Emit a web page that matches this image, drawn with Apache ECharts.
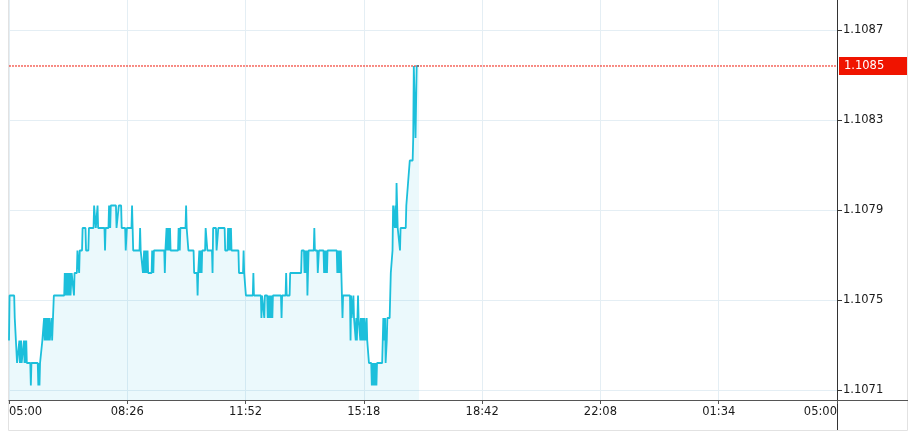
<!DOCTYPE html>
<html><head><meta charset="utf-8">
<script src="https://cdn.jsdelivr.net/npm/echarts@6/dist/echarts.min.js"></script>
<style>html,body{margin:0;padding:0;background:#fff}#c{width:912px;height:436px}</style>
</head><body><div id="c"></div>
<script>
// minutes after 05:00
const minutes = [
0,1,9,10,12,14,17,18,19,21,
22,25,26,27,28,29,30,31,37,38,
39,50,51,52,53,54,57,58,60,61,
62,64,65,67,68,70,71,74,75,77,
78,96,97,98,100,101,103,104,106,107,
109,112,113,114,118,119,121,122,123,127,
128,133,134,138,139,147,148,150,151,153,
154,155,166,167,168,173,174,176,177,186,
187,190,191,195,196,202,203,205,213,214,
215,216,227,228,229,232,233,235,236,238,
239,241,242,248,249,251,252,270,271,272,
274,275,277,278,280,281,294,295,297,298,
307,308,309,311,312,321,322,327,328,329,
331,332,333,335,336,341,342,344,345,353,
354,355,360,361,363,364,375,376,380,381,
382,383,385,386,387,399,400,407,408,409,
411,412,424,425,426,438,439,440,443,444,
445,449,450,451,452,453,455,456,458,459,
473,474,475,481,482,483,488,489,508,509,
513,514,515,517,518,519,520,521,530,531,
532,536,537,539,547,548,549,551,552,553,
554,570,571,572,574,575,576,577,579,580,
581,593,594,595,596,598,599,600,602,603,
604,605,606,607,608,610,611,612,614,615,
617,618,620,622,623,626,630,631,632,634,
635,636,637,639,640,649,650,651,652,654,
655,657,658,662,663,664,666,667,668,670,
671,672,673,674,675,676,679,680,681,690,
691,693,694,696,697,702,703,704,706,707,
708,709,713
];
const prices = [
1.10732,1.10752,1.10752,1.10742,1.10732,1.10722,1.10722,1.10732,1.10722,1.10732,
1.10722,1.10722,1.10732,1.10722,1.10732,1.10722,1.10732,1.10722,1.10722,1.10712,
1.10722,1.10722,1.10712,1.10722,1.10712,1.10722,1.10722,1.10732,1.10732,1.10742,
1.10732,1.10742,1.10732,1.10742,1.10732,1.10742,1.10732,1.10742,1.10732,1.10732,
1.10752,1.10752,1.10762,1.10752,1.10762,1.10752,1.10762,1.10752,1.10762,1.10752,
1.10762,1.10762,1.10752,1.10762,1.10762,1.10772,1.10772,1.10762,1.10772,1.10772,
1.10782,1.10782,1.10772,1.10772,1.10782,1.10782,1.10792,1.10792,1.10782,1.10782,
1.10792,1.10782,1.10782,1.10772,1.10782,1.10782,1.10792,1.10782,1.10792,1.10792,
1.10782,1.10782,1.10792,1.10792,1.10782,1.10782,1.10772,1.10782,1.10782,1.10792,
1.10782,1.10772,1.10772,1.10782,1.10772,1.10772,1.10762,1.10772,1.10762,1.10772,
1.10762,1.10772,1.10762,1.10762,1.10772,1.10762,1.10772,1.10772,1.10762,1.10772,
1.10782,1.10772,1.10782,1.10772,1.10782,1.10772,1.10772,1.10782,1.10772,1.10782,
1.10782,1.10792,1.10782,1.10782,1.10772,1.10772,1.10762,1.10762,1.10752,1.10762,
1.10772,1.10762,1.10772,1.10762,1.10772,1.10772,1.10782,1.10782,1.10772,1.10772,
1.10762,1.10782,1.10782,1.10772,1.10772,1.10782,1.10782,1.10772,1.10772,1.10782,
1.10772,1.10782,1.10772,1.10782,1.10772,1.10772,1.10762,1.10762,1.10772,1.10762,
1.10762,1.10752,1.10752,1.10762,1.10752,1.10752,1.10742,1.10752,1.10752,1.10742,
1.10752,1.10752,1.10742,1.10752,1.10742,1.10752,1.10742,1.10752,1.10742,1.10752,
1.10752,1.10742,1.10752,1.10752,1.10762,1.10752,1.10752,1.10762,1.10762,1.10772,
1.10772,1.10762,1.10772,1.10762,1.10772,1.10752,1.10752,1.10772,1.10772,1.10782,
1.10772,1.10772,1.10762,1.10772,1.10772,1.10762,1.10772,1.10762,1.10772,1.10762,
1.10772,1.10772,1.10762,1.10772,1.10762,1.10772,1.10762,1.10772,1.10772,1.10742,
1.10752,1.10752,1.10732,1.10752,1.10742,1.10742,1.10752,1.10742,1.10742,1.10732,
1.10742,1.10732,1.10742,1.10752,1.10742,1.10742,1.10732,1.10742,1.10732,1.10742,
1.10732,1.10742,1.10732,1.10742,1.10732,1.10722,1.10722,1.10712,1.10722,1.10712,
1.10722,1.10712,1.10722,1.10712,1.10722,1.10722,1.10732,1.10742,1.10732,1.10742,
1.10722,1.10732,1.10742,1.10742,1.10752,1.10762,1.10762,1.10772,1.10792,1.10792,
1.10782,1.10792,1.10782,1.10802,1.10792,1.10782,1.10782,1.10772,1.10782,1.10782,
1.10792,1.10792,1.10802,1.10802,1.10812,1.10812,1.10822,1.10854,1.10854,1.10822,
1.10822,1.10854,1.10854
];
const timeLabels = ['05:00','08:26','11:52','15:18','18:42','22:08','01:34','05:00'];
const priceTicks = [1.1071, 1.1075, 1.1079, 1.1083, 1.1087];
const lastPriceLabel = '1.1085';
const dayMinutes = 1440;

const step = dayMinutes / (timeLabels.length - 1);
const xTicks = timeLabels.map((_, i) => i * step);
const seriesData = minutes.map((m, i) => [m, prices[i]]);
const lastPrice = prices[prices.length - 1];
const priceLineData = [[0, lastPrice], [dayMinutes, lastPrice]];

const FONT = 'DejaVu Sans';
const chart = echarts.init(document.getElementById('c'), null, {renderer: 'canvas'});
chart.setOption({
  animation: false,
  backgroundColor: '#ffffff',
  grid: {left: 9, right: 75, top: 0, bottom: 36, containLabel: false},
  xAxis: {
    type: 'value', min: 0, max: dayMinutes,
    axisLine: {show: true, onZero: false, lineStyle: {color: '#555555', width: 1}},
    axisTick: {show: true, length: 4, lineStyle: {color: '#555555'}, customValues: xTicks},
    splitLine: {show: true, lineStyle: {color: '#e4eef4', width: 1}},
    axisLabel: {
      customValues: xTicks, color: '#1a1a1a', fontFamily: FONT, fontSize: 11.5, margin: 6,
      alignMinLabel: 'left', alignMaxLabel: 'right',
      formatter: v => timeLabels[Math.round(v / step)]
    }
  },
  yAxis: {
    type: 'value', position: 'right', scale: true,
    min: 1.1070556, max: 1.1088333,
    axisLine: {show: true, onZero: false, lineStyle: {color: '#333333', width: 1}},
    axisTick: {show: true, inside: false, length: 5, lineStyle: {color: '#333333'}, customValues: priceTicks},
    splitLine: {show: true, lineStyle: {color: '#e4eef4', width: 1}},
    axisLabel: {
      customValues: priceTicks, color: '#1a1a1a', fontFamily: FONT, fontSize: 11.5, margin: 6,
      formatter: v => v.toFixed(4)
    }
  },
  series: [{
    type: 'line',
    data: seriesData,
    showSymbol: false,
    symbol: 'none',
    z: 3,
    lineStyle: {color: '#1cbfdb', width: 1.8},
    areaStyle: {color: 'rgba(28,191,219,0.09)', opacity: 1, origin: 'start'}
  }, {
    type: 'line',
    data: priceLineData,
    showSymbol: false,
    symbol: 'none',
    silent: true,
    z: 4,
    clip: false,
    itemStyle: {color: '#f0190a'},
    lineStyle: {color: '#f0190a', type: [2, 1], width: 1},
    endLabel: {
      show: true, distance: 2,
      formatter: () => lastPriceLabel,
      color: '#ffffff', backgroundColor: '#f01400',
      fontFamily: FONT, fontSize: 11.5, lineHeight: 13,
      padding: [3, 6, 2, 5], width: 57, align: 'left', verticalAlign: 'middle'
    }
  }],
  graphic: [
    {type: 'rect', silent: true, z: -1, shape: {x: 8.5, y: -1, width: 899, height: 431.5},
     style: {fill: null, stroke: '#e2e2e2', lineWidth: 1}},
    {type: 'line', silent: true, shape: {x1: 837, y1: 400.5, x2: 908, y2: 400.5},
     style: {stroke: '#555555', lineWidth: 1}},
    {type: 'line', silent: true, shape: {x1: 837.5, y1: 400, x2: 837.5, y2: 430},
     style: {stroke: '#333333', lineWidth: 1}}
  ]
});
</script>
</body></html>
